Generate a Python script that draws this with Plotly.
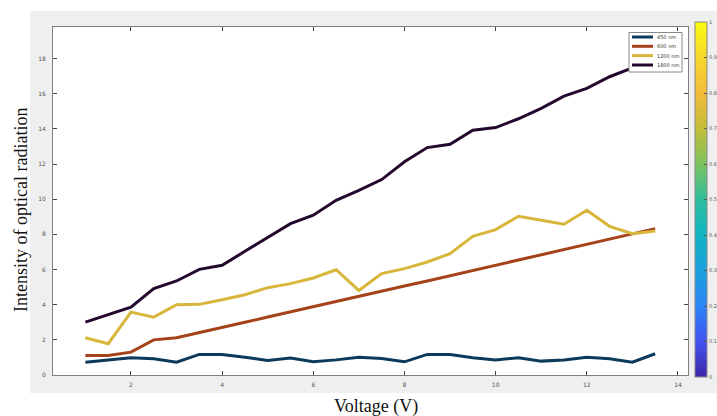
import plotly.graph_objects as go

voltage = [1, 1.5, 2, 2.5, 3, 3.5, 4, 4.5, 5, 5.5, 6, 6.5, 7, 7.5, 8, 8.5, 9,
           9.5, 10, 10.5, 11, 11.5, 12, 12.5, 13, 13.5]

nm450 = [0.73, 0.86, 0.98, 0.92, 0.73, 1.17, 1.17, 1.01, 0.83, 0.96, 0.75, 0.86,
         1.01, 0.94, 0.75, 1.17, 1.17, 0.98, 0.86, 0.98, 0.79, 0.86, 1.01, 0.92,
         0.73, 1.21]
nm600 = [1.11, 1.11, 1.30, 2.00, 2.12, 2.40, 2.70, 3.00, 3.30, 3.60, 3.90, 4.20,
         4.50, 4.78, 5.06, 5.35, 5.65, 5.95, 6.25, 6.55, 6.85, 7.15, 7.45, 7.75,
         8.04, 8.33]
nm1200 = [2.12, 1.78, 3.58, 3.29, 4.00, 4.02, 4.28, 4.57, 4.97, 5.20, 5.52, 5.99,
          4.81, 5.77, 6.05, 6.43, 6.90, 7.89, 8.27, 9.03, 8.80, 8.58, 9.37, 8.46,
          8.04, 8.19]
nm1800 = [3.01, 3.43, 3.86, 4.91, 5.35, 6.01, 6.24, 7.04, 7.85, 8.61, 9.09, 9.94,
          10.50, 11.12, 12.13, 12.94, 13.13, 13.93, 14.08, 14.58, 15.17, 15.87,
          16.31, 16.97, 17.48, 18.00]

series_names = ["450 nm", "600 nm", "1200 nm", "1800 nm"]
series_values = [nm450, nm600, nm1200, nm1800]
series_colors = ["#0c3a5c", "#a5421a", "#d8b63c", "#24092f"]

x_ticks = [2, 4, 6, 8, 10, 12, 14]
y_ticks = [0, 2, 4, 6, 8, 10, 12, 14, 16, 18]
cbar_ticks = [0, 0.1, 0.2, 0.3, 0.4, 0.5, 0.6, 0.7, 0.8, 0.9, 1]
cbar_labels = ["0", "0.1", "0.2", "0.3", "0.4", "0.5", "0.6", "0.7", "0.8", "0.9", "1"]

parula = [
    [0.0, "#3e26a8"], [0.1, "#4352f0"], [0.2, "#2c85f5"], [0.3, "#1aa1de"],
    [0.4, "#0fb5c3"], [0.5, "#2fbe9e"], [0.6, "#7cc35e"], [0.7, "#c4bd3a"],
    [0.8, "#f3bb3a"], [0.9, "#f6d82e"], [1.0, "#f9fb0e"],
]

# plot-area geometry (pixels) used to place the decorations in paper space
L, R, T, B, W, H = 53, 29, 27, 41, 717, 416
PW, PH = W - L - R, H - T - B


def px(xp):
    return (xp - L) / PW


def py(yp):
    return (H - B - yp) / PH


fig = go.Figure()
for name, vals, col in zip(series_names, series_values, series_colors):
    fig.add_trace(go.Scatter(x=voltage, y=vals, mode="lines", name=name,
                             showlegend=False,
                             line=dict(color=col, width=3)))

fig.add_trace(go.Scatter(
    x=[None], y=[None], mode="markers", showlegend=False, hoverinfo="skip",
    marker=dict(color=[0], cmin=0, cmax=1, colorscale=parula, showscale=True,
                colorbar=dict(x=px(695), xanchor="left", xpad=0, ypad=0,
                              y=py(199.5), yanchor="middle", lenmode="pixels",
                              len=355, thickness=12, outlinewidth=1,
                              outlinecolor="#888",
                              tickvals=cbar_ticks, ticktext=cbar_labels,
                              ticks="inside", ticklen=3, tickcolor="#555",
                              tickfont=dict(size=5, color="#555",
                                            family="DejaVu Sans"))),
))

axis_common = dict(showline=True, linecolor="#808080", linewidth=1, mirror="ticks",
                   ticks="inside", ticklen=4, tickcolor="#444", showgrid=False,
                   zeroline=False, tickfont=dict(size=6, color="#555",
                                                 family="DejaVu Sans"))

shapes = [
    dict(type="rect", xref="paper", yref="paper",
         x0=px(30), x1=px(717), y0=py(393), y1=py(11),
         fillcolor="#efefef", line=dict(width=0), layer="below"),
    dict(type="rect", xref="paper", yref="paper", x0=0, x1=1, y0=0, y1=1,
         fillcolor="white", line=dict(width=0), layer="below"),
    dict(type="rect", xref="paper", yref="paper",
         x0=px(629), x1=px(682), y0=py(72), y1=py(32.5),
         fillcolor="white", line=dict(color="#888", width=1), layer="above"),
]
annotations = [
    dict(text="Intensity of optical radiation", xref="paper", yref="paper",
         x=px(21), y=py(210), xanchor="center", yanchor="middle",
         textangle=-90, showarrow=False,
         font=dict(family="Liberation Serif", size=18, color="#111")),
    dict(text="Voltage (V)", xref="paper", yref="paper",
         x=px(376), y=py(406), xanchor="center", yanchor="middle",
         showarrow=False,
         font=dict(family="Liberation Serif", size=18, color="#111")),
]
legend_rows = [37, 46.3, 55.6, 65]
for name, col, yr in zip(series_names, series_colors, legend_rows):
    shapes.append(dict(type="line", xref="paper", yref="paper",
                       x0=px(632), x1=px(653), y0=py(yr), y1=py(yr),
                       line=dict(color=col, width=3), layer="above"))
    annotations.append(dict(text=name, xref="paper", yref="paper",
                            x=px(655), y=py(yr), xanchor="left",
                            yanchor="middle", showarrow=False,
                            font=dict(size=5, color="#333",
                                      family="DejaVu Sans")))

fig.update_layout(
    width=W, height=H,
    margin=dict(l=L, r=R, t=T, b=B, autoexpand=False),
    paper_bgcolor="white", plot_bgcolor="white",
    xaxis=dict(range=[0.29, 14.22], tickvals=x_ticks, ticklabelstandoff=4,
               **axis_common),
    yaxis=dict(range=[0, 19.8], tickvals=y_ticks, ticklabelstandoff=5,
               **axis_common),
    showlegend=False,
    shapes=shapes,
    annotations=annotations,
)

fig.write_html("out.html", config={"displayModeBar": False},
               post_script="document.body.style.margin='0';"
                           "document.body.style.overflow='hidden';")
